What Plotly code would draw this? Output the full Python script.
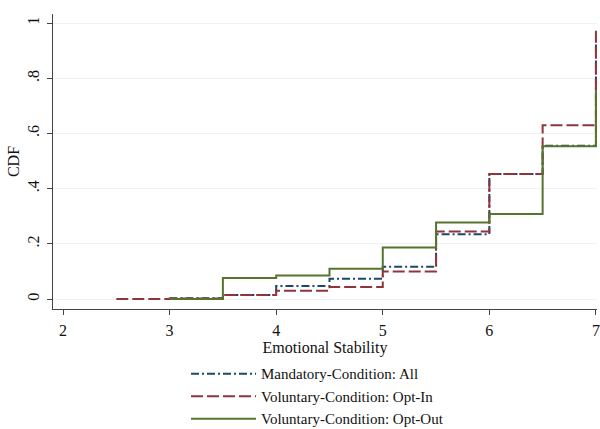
import plotly.graph_objects as go

# Data (step CDFs of Emotional Stability)
mand_x = [3, 3.5, 4, 4.5, 5, 5.5, 6, 6.5, 7]
mand_y = [0.003, 0.015, 0.047, 0.074, 0.117, 0.235, 0.453, 0.556, 0.95]

optin_x = [2.5, 3, 3.5, 4, 4.5, 5, 5.5, 6, 6.5, 7]
optin_y = [0, 0.002, 0.015, 0.03, 0.044, 0.10, 0.245, 0.453, 0.63, 0.978]

optout_x = [3, 3.5, 4, 4.5, 5, 5.5, 6, 6.5, 7]
optout_y = [0, 0.076, 0.085, 0.11, 0.187, 0.277, 0.308, 0.554, 0.756]

x_ticks = [2, 3, 4, 5, 6, 7]
y_ticks = [0, 0.2, 0.4, 0.6, 0.8, 1]
y_ticktext = ["0", ".2", ".4", ".6", ".8", "1"]

FONT = "Liberation Serif, Times New Roman, serif"

fig = go.Figure()
fig.add_trace(go.Scatter(x=mand_x, y=mand_y, mode="lines", line_shape="hv",
                         name="Mandatory-Condition: All",
                         line=dict(color="#1a476f", width=2, dash="8px,3px,2px,3px")))
fig.add_trace(go.Scatter(x=optin_x, y=optin_y, mode="lines", line_shape="hv",
                         name="Voluntary-Condition: Opt-In",
                         line=dict(color="#90353b", width=2, dash="12px,4px")))
fig.add_trace(go.Scatter(x=optout_x, y=optout_y, mode="lines", line_shape="hv",
                         name="Voluntary-Condition: Opt-Out",
                         line=dict(color="#55752f", width=2)))

fig.update_layout(
    width=600, height=429,
    margin=dict(l=53, r=3, t=14, b=120, autoexpand=False),
    paper_bgcolor="white", plot_bgcolor="white",
    font=dict(family=FONT, size=16, color="#111"),
    showlegend=True,
    legend=dict(x=0.2445, y=-0.164, xanchor="left", yanchor="top",
                font=dict(family=FONT, size=15, color="#111"),
                itemwidth=65, bgcolor="rgba(0,0,0,0)", tracegroupgap=0),
)
fig.update_xaxes(range=[1.906, 7.01], tickvals=x_ticks, ticks="outside", ticklen=5,
                 tickcolor="#444", showline=True, linecolor="#444", linewidth=1,
                 showgrid=False, zeroline=False, automargin=False,
                 ticklabelstandoff=2,
                 title=dict(text="Emotional Stability", standoff=2,
                            font=dict(family=FONT, size=16)),
                 tickfont=dict(family=FONT, size=16))
fig.update_yaxes(range=[-0.036, 1.033], tickvals=y_ticks, ticktext=y_ticktext,
                 tickangle=-90, ticks="outside", ticklen=5, tickcolor="#444",
                 showline=True, linecolor="#444", linewidth=1,
                 showgrid=True, gridcolor="#eaf2f3", gridwidth=1, zeroline=False,
                 automargin=False, ticklabelstandoff=2,
                 title=dict(text="CDF", standoff=0, font=dict(family=FONT, size=16)),
                 tickfont=dict(family=FONT, size=16))

fig.write_html("out.html", config={"displayModeBar": False},
               post_script="document.body.style.margin='0';document.body.style.overflow='hidden';")
